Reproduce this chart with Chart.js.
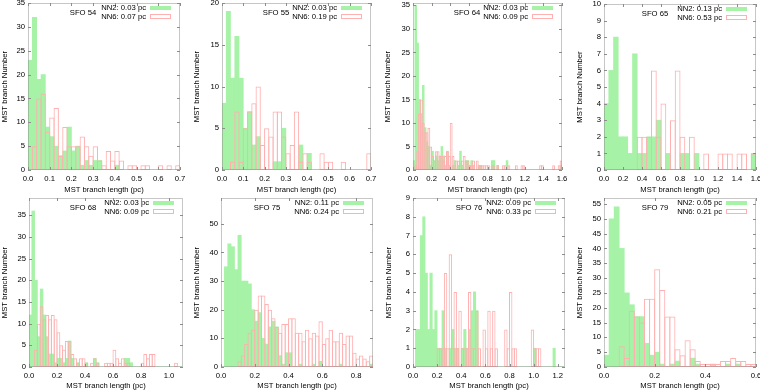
<!DOCTYPE html>
<html>
<head>
<meta charset="utf-8">
<script src="https://cdn.jsdelivr.net/npm/chart.js@4.4.1/dist/chart.umd.min.js"></script>
<style>
  body { margin: 0; background: #fff; width: 760px; height: 391px; position: relative; overflow: hidden; }
  canvas { position: absolute; }
</style>
</head>
<body>
<canvas id="p0" width="190" height="195" style="left:0px;top:0px"></canvas>
<canvas id="p1" width="190" height="195" style="left:190px;top:0px"></canvas>
<canvas id="p2" width="190" height="195" style="left:380px;top:0px"></canvas>
<canvas id="p3" width="190" height="195" style="left:570px;top:0px"></canvas>
<canvas id="p4" width="190" height="196" style="left:0px;top:195px"></canvas>
<canvas id="p5" width="190" height="196" style="left:190px;top:195px"></canvas>
<canvas id="p6" width="190" height="196" style="left:380px;top:195px"></canvas>
<canvas id="p7" width="190" height="196" style="left:570px;top:195px"></canvas>
<script>
// ===== histogram counts (MST branch number per bin) =====
// SFO 54, bins of 0.02 pc from 0 to 0.7
const sfo54Nn2 = [23,32,19,20,9,7,5,3,4,9, 4,5,1,2,1,2,2,0,0,0, 1,0,0,0,0,0,0,0,0,0, 0,0,0,0,0];
const sfo54Nn6 = [0,5,15,16,8,11,13,3,9,5, 5,5,7,5,3,5,2,1,4,2, 4,2,0,1,1,0,1,1,0,0, 1,0,1,0,1];
// SFO 55, bins of 0.02 pc from 0 to 0.7
const sfo55Nn2 = [8,19,11,16,11,5,7,3,4,0, 0,0,1,1,5,0,0,0,3,0, 2,0,0,0,0,0,0,0,0,0, 0,0,0,0,0];
const sfo55Nn6 = [0,0,1,7,1,5,7,8,10,3, 5,4,7,7,4,2,3,7,1,2, 1,0,0,2,1,1,0,0,1,0, 0,0,0,0,2];
// SFO 64, bins of 0.02 pc from 0 to 1.6
const sfo64Nn2 = [2,35,27,15,12,18,9,6,5,1, 4,2,3,2,3,5,3,1,4,1, 0,1,2,0,1,4,1,0,2,2,
                  1,2,1,0,0,1,1,0,0,0, 0,0,2,2,0,1,0,0,0,0, 2,0,0,0,0,0,0,0,0,0,
                  0,0,0,0,0,0,0,0,0,0, 0,0,0,0,0,0,0,0,0,1];
const sfo64Nn6 = [0,1,4,12,15,10,8,8,9,5, 3,2,4,4,3,3,2,3,4,3, 10,3,1,2,2,1,2,3,2,2,
                  1,1,2,0,2,1,1,1,1,1, 1,0,1,1,0,1,0,0,1,1, 0,1,0,0,0,1,0,0,1,1,
                  0,0,0,0,0,0,0,0,1,1, 0,0,0,0,0,1,0,0,1,2];
// SFO 65, bins of 0.05 pc from 0 to 1.6
const sfo65Nn2 = [4,6,8,2,2,1,7,1,1,2, 2,3,0,1,0,0,1,1,0,1, 0,0,0,0,0,0,0,0,0,0, 0,1];
const sfo65Nn6 = [0,0,0,0,0,0,0,2,2,2, 6,2,4,0,3,6,2,0,2,0, 0,1,0,0,1,1,1,0,1,1, 0,1];
// SFO 68, bins of 0.02 pc from 0 to 1.1
const sfo68Nn2 = [12,36,20,7,18,12,7,3,3,1, 2,2,1,2,6,2,0,1,0,0, 1,0,0,2,1,0,0,0,0,0,
                  0,0,0,0,2,2,1,0,0,0, 0,0,0,0,0,0,0,0,0,0, 0,0,0,0,0];
const sfo68Nn6 = [0,0,4,10,14,11,12,11,12,11, 8,5,4,6,6,3,2,1,2,2, 1,0,1,2,1,0,0,1,1,1,
                  4,2,1,2,1,1,0,0,0,0, 1,3,2,3,3,0,0,0,0,0, 0,0,1,0,0];
// SFO 75, bins of 0.02 pc from 0 to 0.9
const sfo75Nn2 = [0,35,43,42,34,46,30,30,29,20, 16,19,10,8,14,16,14,4,1,5, 5,0,0,1,0,0,0,1,0,2,
                  0,0,0,0,0,1,0,0,0,0, 0,0,0,0,1];
const sfo75Nn6 = [0,0,0,0,0,2,4,8,12,13, 20,25,25,22,20,17,14,12,15,15, 17,17,12,12,9,13,10,12,11,16,
                  8,10,13,9,9,12,8,11,11,5, 3,4,3,2,4];
// SFO 76, bins of 0.02 pc from 0 to 1.26
const sfo76Nn2 = [0,2,2,7,8,5,2,5,2,3, 1,1,3,1,0,1,2,1,1,0, 1,2,1,2,3,4,3,0,0,0,
                  0,0,0,0,0,0,0,0,0,0, 0,0,0,0,0,0,0,0,0,0, 1,0,0,0,0,0,0,0,1,0, 0,0,0];
const sfo76Nn6 = [0,0,0,0,0,0,0,0,0,0, 1,1,1,5,1,6,1,4,1,3, 1,1,1,4,1,1,3,1,0,2,
                  1,3,1,3,1,0,0,0,2,1, 4,1,1,0,0,0,0,0,0,2, 1,1,1,0,0,0,0,0,0,0, 0,0,0];
// SFO 79, bins of 0.02 pc from 0 to 0.6
const sfo79Nn2 = [4,50,54,40,25,21,17,17,8,4, 5,1,0,1,2,0,0,3,1,0, 0,1,0,0,1,0,1,0,0,0];
const sfo79Nn6 = [0,0,0,7,3,19,17,15,23,23, 33,26,17,17,6,4,9,6,2,1, 1,1,1,2,2,3,2,2,1,1];

const regionNames = ["SFO 54", "SFO 55", "SFO 64", "SFO 65", "SFO 68", "SFO 75", "SFO 76", "SFO 79"];
const nn2Labels = ["NN2: 0.03 pc", "NN2: 0.03 pc", "NN2: 0.03 pc", "NN2: 0.13 pc", "NN2: 0.03 pc", "NN2: 0.11 pc", "NN2: 0.09 pc", "NN2: 0.05 pc"];
const nn6Labels = ["NN6: 0.07 pc", "NN6: 0.19 pc", "NN6: 0.09 pc", "NN6: 0.53 pc", "NN6: 0.09 pc", "NN6: 0.24 pc", "NN6: 0.33 pc", "NN6: 0.21 pc"];
const nn2Series = [sfo54Nn2, sfo55Nn2, sfo64Nn2, sfo65Nn2, sfo68Nn2, sfo75Nn2, sfo76Nn2, sfo79Nn2];
const nn6Series = [sfo54Nn6, sfo55Nn6, sfo64Nn6, sfo65Nn6, sfo68Nn6, sfo75Nn6, sfo76Nn6, sfo79Nn6];
const binWidths = [0.02, 0.02, 0.02, 0.05, 0.02, 0.02, 0.02, 0.02];
const xMaxes = [0.7, 0.7, 1.6, 1.6, 1.1, 0.9, 1.26, 0.6];
const xSteps = [0.1, 0.1, 0.2, 0.2, 0.2, 0.2, 0.2, 0.2];
const yMaxes = [35, 20, 35.5, 10, 39, 59, 9, 57];
const ySteps = [5, 5, 5, 1, 5, 10, 1, 5];

// ===== panel geometry (pixels inside each canvas) =====
// [y-axis width, right pad, top pad, x-axis height, y-title pad, label offset]
const geometry = [
  [28, 10, 3, 25, 0.4, 97],
  [32, 9, 3, 25, 2.4, 95],
  [33, 8, 3, 25, 3.4, 95],
  [34, 4, 4, 25, 5.4, 101],
  [29, 7, 3, 24, 0, 100],
  [31, 7, 3, 24, 2.4, 106],
  [33, 5, 3, 24, 4.4, 96],
  [34, 4, 3, 24, 5.4, 101],
];

const GREEN = "#a6f2a6";
const PINK = "#ffb0b0";
const FRAME = "#8c8c8c";
const FONT = '"Liberation Sans", Arial, Helvetica, sans-serif';

Chart.defaults.font.family = FONT;
Chart.defaults.color = "#000";

function toPoints(counts, w) {
  return counts.map((v, i) => ({ x: +((i + 0.5) * w).toFixed(4), y: v }));
}

// frame, inward ticks and key drawn on top of the bars
const frameAndKey = {
  id: "frameAndKey",
  afterDatasetsDraw(chart, args, opts) {
    const { ctx, chartArea: a, scales } = chart;
    ctx.save();

    ctx.strokeStyle = FRAME;
    ctx.lineWidth = 1;
    ctx.setLineDash([1, 1]);
    ctx.strokeRect(a.left + 0.5, a.top + 0.5, a.right - a.left - 1, a.bottom - a.top - 1);
    ctx.setLineDash([]);

    ctx.beginPath();
    scales.x.ticks.forEach((t) => {
      const px = Math.round(scales.x.getPixelForValue(t.value)) + 0.5;
      ctx.moveTo(px, a.bottom); ctx.lineTo(px, a.bottom - 3);
      ctx.moveTo(px, a.top); ctx.lineTo(px, a.top + 3);
    });
    scales.y.ticks.forEach((t) => {
      const py = Math.round(scales.y.getPixelForValue(t.value)) + 0.5;
      ctx.moveTo(a.left, py); ctx.lineTo(a.left + 3, py);
      ctx.moveTo(a.right, py); ctx.lineTo(a.right - 3, py);
    });
    ctx.stroke();

    // key
    ctx.font = "7.7px " + FONT;
    ctx.fillStyle = "#000";
    ctx.textBaseline = "middle";
    ctx.textAlign = "right";
    ctx.fillText(opts.nn2, a.right - 34, a.top + 5);
    ctx.fillText(opts.nn6, a.right - 34, a.top + 14);
    ctx.textAlign = "center";
    ctx.fillText(opts.name, a.right - opts.labelOffset, a.top + 10);

    ctx.fillStyle = GREEN;
    ctx.fillRect(a.right - 30, a.top + 3, 21, 4);
    ctx.strokeStyle = PINK;
    ctx.strokeRect(a.right - 29.5, a.top + 11.5, 20, 4);

    ctx.restore();
  },
};

// outline boxes a touch wider than the bin so neighbouring edges overlap
function outlineRatio(w) {
  return (c) => {
    const s = c.chart.scales.x;
    if (!s) return 1;
    const px = Math.abs(s.getPixelForValue(w) - s.getPixelForValue(0));
    return px > 0 ? (px + 1) / px : 1;
  };
}

function makePanel(i) {
  const [yw, padR, padT, xh, yTitlePad, labelOffset] = geometry[i];
  const w = binWidths[i];
  const ctx = document.getElementById("p" + i).getContext("2d");

  new Chart(ctx, {
    type: "bar",
    data: {
      datasets: [
        {
          label: "NN6",
          data: toPoints(nn6Series[i], w),
          backgroundColor: "rgba(255,255,255,0)",
          borderColor: PINK,
          borderWidth: 1,
          borderSkipped: false,
          grouped: false,
          barPercentage: outlineRatio(w),
          categoryPercentage: 1,
          order: 0,
        },
        {
          label: "NN2",
          data: toPoints(nn2Series[i], w),
          backgroundColor: GREEN,
          borderWidth: 0,
          grouped: false,
          barPercentage: 1,
          categoryPercentage: 1,
          order: 1,
        },
      ],
    },
    options: {
      responsive: false,
      animation: false,
      devicePixelRatio: 1,
      layout: { padding: { left: 0, right: padR, top: padT, bottom: 0 } },
      plugins: {
        legend: { display: false },
        tooltip: { enabled: false },
        frameAndKey: { name: regionNames[i], nn2: nn2Labels[i], nn6: nn6Labels[i], labelOffset },
      },
      scales: {
        x: {
          type: "linear",
          min: 0,
          max: xMaxes[i],
          offset: false,
          grid: { display: false, drawTicks: false, offset: false },
          border: { display: false },
          ticks: {
            stepSize: xSteps[i],
            includeBounds: false,
            autoSkip: false,
            maxRotation: 0,
            padding: 4,
            font: { size: 7.7 },
            callback: (v) => Number(v).toFixed(1),
          },
          title: {
            display: true,
            text: "MST branch length (pc)",
            font: { size: 7.6, lineHeight: 1.2 },
            padding: { top: 0, bottom: 0.5 },
          },
          afterFit(scale) {
            scale.height = xh;
            scale.paddingLeft = 0;
            scale.paddingRight = 0;
          },
        },
        y: {
          type: "linear",
          min: 0,
          max: yMaxes[i],
          grid: { display: false, drawTicks: false },
          border: { display: false },
          ticks: {
            stepSize: ySteps[i],
            includeBounds: false,
            padding: 3,
            font: { size: 7.7 },
            callback: (v) => String(v),
          },
          title: {
            display: true,
            text: "MST branch Number",
            font: { size: 7.7, lineHeight: 1.2 },
            padding: { top: yTitlePad, bottom: 0 },
          },
          afterFit(scale) {
            scale.width = yw;
            scale.paddingTop = 0;
            scale.paddingBottom = 0;
          },
        },
      },
    },
    plugins: [frameAndKey],
  });
}

for (let i = 0; i < 8; i++) makePanel(i);
</script>
</body>
</html>
